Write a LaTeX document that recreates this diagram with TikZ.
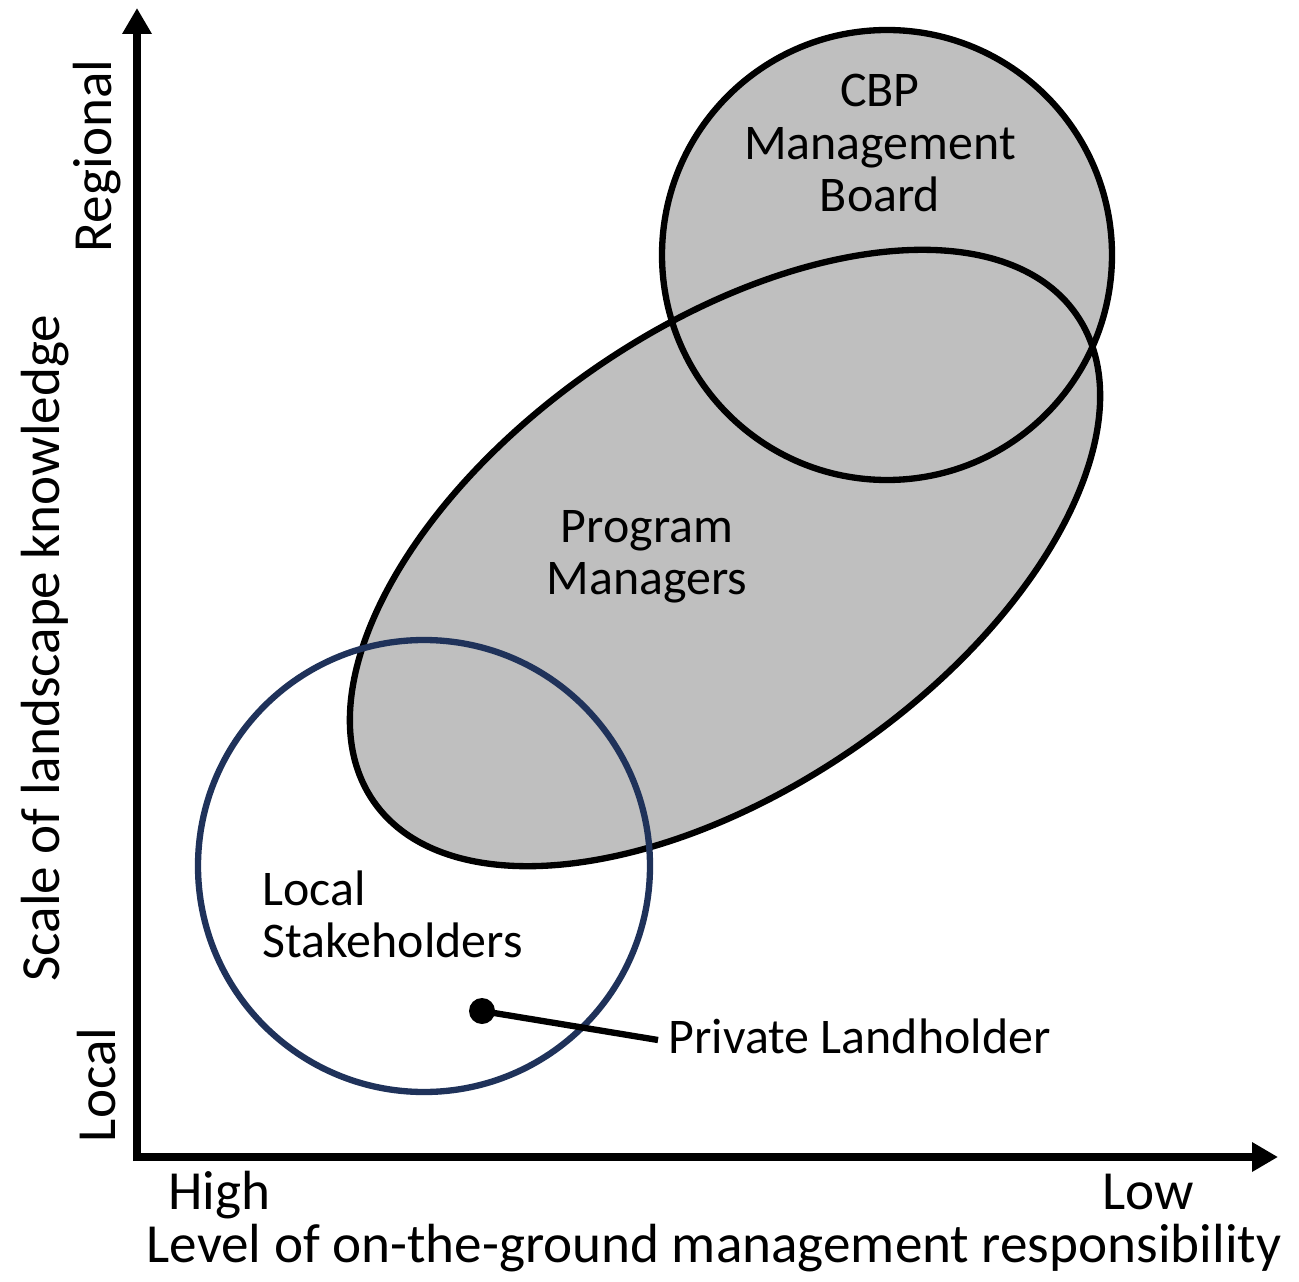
\documentclass[tikz,border=0pt]{standalone}
\usepackage{fontspec}
\setmainfont{Carlito}
\usetikzlibrary{arrows.meta,shapes.geometric}
\definecolor{groupfill}{RGB}{191,191,191}
\definecolor{localblue}{RGB}{31,50,90}
\begin{document}
\begin{tikzpicture}[
  x=1cm,y=1cm,
  every node/.style={font=\fontsize{14.2}{14.8}\selectfont, inner sep=0pt},
  axistext/.style={font=\fontsize{15.7}{17}\selectfont},
  axisline/.style={line width=2.3pt, -{Triangle[length=0.26cm,width=0.28cm]}},
  groupshape/.style={line width=1.8pt, draw=black},
  label/.style={align=center},
]
\useasboundingbox (0,0) rectangle (12.99,-12.82);

% axes
\coordinate (origin) at (1.37,-11.57);
\coordinate (ytip) at (1.37,-0.08);
\coordinate (xtip) at (12.78,-11.57);
\draw[axisline] (1.37,-11.61) -- (ytip);
\draw[axisline] (1.33,-11.57) -- (xtip);

% filled groups
\node[ellipse, minimum width=8.55cm, minimum height=4.6cm, rotate=34.7,
      fill=groupfill] (pmfill) at (7.25,-5.58) {};
\node[circle, minimum size=4.5cm, fill=groupfill] (cbpfill) at (8.87,-2.55) {};
% outlines
\node[ellipse, minimum width=8.55cm, minimum height=4.6cm, rotate=34.7,
      groupshape] (pm) at (7.25,-5.58) {};
\node[circle, minimum size=4.5cm, groupshape] (cbp) at (8.87,-2.55) {};
\node[circle, minimum size=4.52cm, line width=1.8pt, draw=localblue] (ls) at (4.24,-8.66) {};

% group labels
\node[label] (cbptext) at (8.80,-1.43) {CBP\\Management\\Board};
\node[label] (pmtext) at (6.47,-5.57) {Program\\Managers};
\node[align=left, anchor=west] (lstext) at (2.62,-9.14) {Local\\Stakeholders};

% private landholder
\fill (4.82,-10.11) circle (0.13) coordinate (dot);
\node[anchor=west] (pl) at (6.68,-10.36) {Private Landholder};
\draw[line width=1.8pt] (dot) -- (6.58,-10.40);

% axis labels
\node[axistext, rotate=90] (regional) at (0.97,-1.56) {Regional};
\node[axistext, rotate=90] (local) at (0.97,-10.85) {Local};
\node[axistext, rotate=90] (ytitle) at (0.45,-6.48) {Scale of landscape knowledge};
\node[axistext, anchor=base] (high) at (2.19,-12.09) {High};
\node[axistext, anchor=base] (low) at (11.48,-12.09) {Low};
\node[axistext, anchor=base] (xtitle) at (7.14,-12.62) {Level of on-the-ground management responsibility};
\end{tikzpicture}
\end{document}
